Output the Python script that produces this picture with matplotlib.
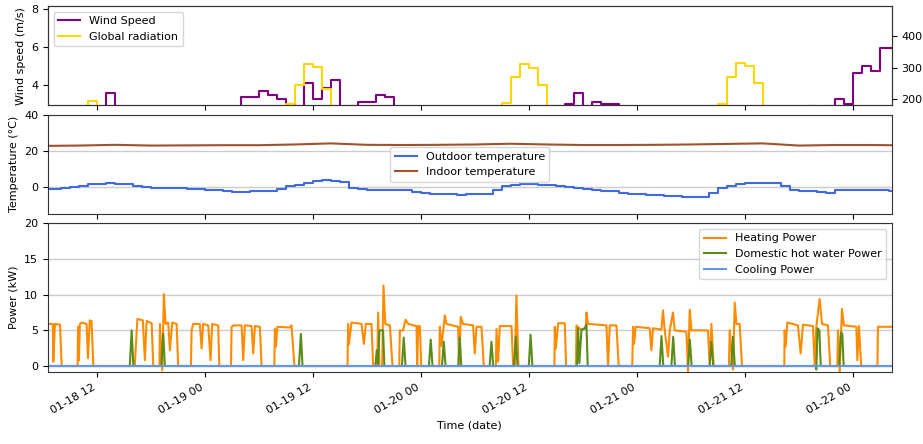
import numpy as np
import pandas as pd
import matplotlib
matplotlib.use("Agg")
import matplotlib.pyplot as plt
import matplotlib.dates as mdates
from matplotlib.ticker import MultipleLocator

plt.rcParams['font.family'] = ['DejaVu Sans']
plt.rcParams['font.size'] = 8

# --- data (hours counted from 2019-01-18 00:00) ---
BASE = pd.Timestamp("2019-01-18 00:00")

# hourly series, first value at 06:00 on 01-18
hour_h = np.arange(6, 102)

wind_ms = [2.4, 2.6, 2.5, 2.7, 2.8, 2.6, 2.8,
           3.6,
           2.7, 2.5, 2.3, 2.2, 2.0, 2.1, 2.3, 2.4, 2.2, 2.5, 2.6, 2.4, 2.7, 2.8,
           3.38, 3.38, 3.7, 3.51, 3.3, 3.0, 2.9, 4.1, 3.3, 3.84, 4.3, 2.8, 2.9,
           3.1, 3.1, 3.47, 3.37,
           2.8, 2.6, 2.5, 2.3, 2.2, 2.0, 1.9, 2.1, 2.3, 2.2, 2.4, 2.6, 2.5, 2.4,
           2.6, 2.7, 2.8, 2.7, 2.9,
           3.0, 3.6, 2.9, 3.12, 3.0, 3.0,
           2.8, 2.6, 2.4, 2.3, 2.1, 2.0, 2.2, 2.3, 2.5, 2.4, 2.2, 2.1, 2.3, 2.5,
           2.6, 2.4, 2.5, 2.7, 2.6, 2.8, 2.7, 2.9, 2.8, 2.9,
           3.26, 3.0, 4.63, 5.0, 4.74, 5.95, 5.95, 5.95]

radiation_wm2 = [0, 0, 0, 40, 130, 195, 160, 110, 50, 0,          # 01-18 06..15
                 0, 0, 0, 0, 0, 0, 0, 0, 0, 0, 0, 0, 0, 0, 0,      # 16..30
                 50, 130, 185, 245, 313, 303, 232, 120, 40, 0,     # 31..40
                 0, 0, 0, 0, 0, 0, 0, 0, 0, 0, 0, 0, 0, 0,         # 41..54
                 40, 120, 187, 271, 313, 300, 245, 130, 40, 0,     # 55..64
                 0, 0, 0, 0, 0, 0, 0, 0, 0, 0, 0, 0, 0, 0,         # 65..78
                 40, 130, 185, 271, 316, 305, 252, 130, 40, 0,     # 79..88
                 0, 0, 0, 0, 0, 0, 0, 0, 0, 0, 0, 0, 0]            # 89..101

outdoor_c = [-1.1, -0.8, -0.3, 0.3, 0.9, 1.6, 2.0, 2.1, 1.8, 1.6, 0.4, 0.0,
             -0.7, -0.5, -0.3, -0.6, -1.0, -1.2, -1.8, -1.3, -2.4, -2.6, -2.5, -2.3,
             -2.2, -2.4, -1.0, 0.4, 1.4, 2.4, 3.5, 3.7, 3.3, 2.8, -0.3, -0.8,
             -1.3, -1.5, -1.4, -1.3, -1.8, -2.6, -3.0, -3.6, -3.8, -3.9, -4.3, -3.9,
             -3.7, -3.7, -1.5, 0.4, 1.3, 1.5, 1.5, 1.4, 1.1, 0.6, -0.1, -0.6,
             -1.1, -1.5, -2.0, -2.4, -3.0, -3.6, -4.0, -4.3, -4.5, -4.7, -4.8, -5.2,
             -5.6, -5.4, -3.0, -0.6, 0.8, 1.9, 2.1, 2.5, 2.5, 2.4, 0.4, -1.5,
             -2.0, -2.4, -2.7, -3.0, -1.8, -1.7, -1.6, -1.5, -1.5, -1.5, -2.4, -2.4]

# indoor temperature every 4 hours
indoor_h = [6, 10, 14, 18, 22, 26, 30, 34, 38, 42, 46, 50, 54, 58, 62, 66,
            70, 74, 78, 82, 86, 90, 94, 98, 102]
indoor_c = [22.8, 23.0, 23.4, 23.0, 23.1, 23.2, 23.2, 23.6, 24.2, 23.4, 23.3,
            23.4, 23.6, 24.0, 23.6, 23.3, 23.3, 23.4, 23.6, 23.9, 24.2, 23.0,
            23.3, 23.3, 23.1]

# heating power, read as polyline vertices
heat_h = [6.5, 7.1, 7.15, 7.33, 7.9, 8.08,
          9.85, 9.9, 10.0, 10.1, 10.3, 10.85, 11.0, 11.2, 11.4, 11.6,
          16.2, 16.5, 17.1, 17.33, 17.52, 18.08, 18.26,
          18.95, 19.0, 19.26, 19.44, 19.63, 19.92, 20.11, 20.37, 20.86, 21.03,
          22.45, 22.52, 22.7, 23.44, 23.63, 23.81, 24.37, 24.63, 24.81, 25.48, 25.6,
          26.9, 26.97, 27.2, 28.08, 28.26, 28.44, 29.19, 29.37, 29.56, 30.11, 30.3,
          31.72, 31.78, 31.9, 32.05, 33.44, 33.63, 33.95,
          39.85, 39.92, 40.0, 40.3, 41.41, 41.67, 41.89, 42.52, 42.7,
          43.15, 43.26, 43.4,
          43.7, 43.85, 44.05, 44.56, 44.85,
          45.6, 45.67, 46.03, 46.3, 46.59, 47.52, 47.6, 47.7, 47.89, 48.05,
          50.05, 50.11, 50.3, 50.67, 50.85, 52.15, 52.26, 52.44, 52.7, 53.81, 54.0,
          54.19, 54.74, 55.0,
          56.35, 56.41, 56.59, 56.78, 58.08, 58.26, 58.44, 58.63, 58.85,
          62.85, 62.89, 63.0, 63.26, 64.0, 64.15,
          65.25, 65.3, 65.67, 66.35, 66.41, 66.59, 68.63, 68.81, 69.0, 69.74, 70.0,
          71.5, 71.59, 71.7, 71.89, 73.44, 73.63, 73.81, 74.74, 74.92, 75.11, 75.48,
          75.67, 76.03, 76.22, 77.52, 77.7, 77.89, 78.08, 79.92, 80.11, 80.3, 80.55,
          82.25, 82.33, 82.7, 82.89, 83.08, 83.44, 83.7,
          88.4, 88.44, 88.55, 88.74, 89.92, 90.22, 90.48, 91.59, 91.78, 91.96, 92.33,
          92.59, 93.26, 93.5,
          94.3, 94.37, 94.56, 94.81, 95.03, 96.41, 96.52, 96.7, 96.95,
          98.75, 98.81, 100.5]
heat_kw = [5.9, 5.9, 0.6, 5.9, 5.8, 0,
           0, 5.5, 0.8, 5.9, 6.1, 5.9, 1.1, 6.4, 6.3, 0,
           0, 6.6, 6.4, 0.8, 6.3, 6.0, 0,
           0, 5.9, -0.6, 10.1, 5.9, 6.1, 2.2, 6.1, 5.9, 0,
           0, 5.0, 5.9, 5.9, 2.45, 5.9, 5.7, 0.8, 5.9, 5.7, 0,
           0, 5.5, 5.7, 5.7, 0.8, 5.7, 5.6, 1.75, 5.6, 5.5, 0,
           0, 5.2, 2.7, 5.5, 5.4, 5.7, 0,
           0, 5.9, 3.0, 6.1, 5.9, 3.1, 5.9, 5.9, 0,
           0, 7.5, 0,
           0, 11.3, 5.9, 5.7, 0,
           0, 5.0, 5.0, 6.5, 5.9, 5.6, 0, 5.6, 5.6, 0,
           0, 5.5, 2.8, 7.1, 5.9, 5.5, 0, 6.9, 5.9, 5.7, 1.75,
           5.5, 5.5, 0,
           0, 5.2, 0.6, 5.6, 5.6, 0, 0, 9.9, 0,
           0, 5.5, 2.4, 6.0, 6.0, 0,
           0, 5.7, 5.2, 5.2, 7.5, 5.9, 5.7, 0, 5.7, 5.7, 0,
           0, 5.5, 3.1, 5.5, 5.3, 2.2, 5.3, 5.1, 7.8, 5.0, 1.3,
           5.0, 7.5, 5.0, 4.8, -0.8, 7.9, 5.0, 5.0, 0, 5.9, 0,
           0, 5.0, -0.5, 8.9, 5.9, 5.9, 0,
           0, 5.0, 2.7, 6.1, 5.7, 1.75, 5.8, 5.6, 0.1, 5.5, 9.4,
           5.9, 5.7, 0,
           0, 5.0, -0.8, 8.0, 5.7, 5.5, 0.8, 5.6, 0,
           0, 5.5, 5.5]

# domestic hot water power, polyline vertices
dhw_h = [6.5, 15.65, 15.86, 16.05, 19.15, 19.37, 19.55, 34.45, 34.67, 34.85,
         42.95, 43.1, 43.25, 43.4, 43.8, 43.95, 45.9, 46.1, 46.3, 48.9, 49.1, 49.3,
         50.35, 50.55, 50.75, 52.15, 52.33, 52.5, 55.65, 55.85, 56.05,
         58.35, 58.55, 58.75, 60.0, 60.2, 60.4,
         65.35, 65.48, 65.62, 65.85, 66.2, 66.41, 66.55,
         74.55, 74.75, 74.95, 75.85, 76.05, 76.25, 77.7, 77.9, 78.1,
         80.1, 80.3, 80.5, 82.5, 82.7, 82.9,
         91.9, 91.96, 92.1, 92.3, 92.45, 94.5, 94.7, 94.85, 95.0, 100.5]
dhw_kw = [0, 0, 5.0, 0, 0, 4.5, 0, 0, 4.5, 0,
          0, 2.2, 0.3, 5.0, 5.0, 0, 0, 4.0, 0, 0, 3.7, 0,
          0, 3.4, 0, 0, 4.0, 0, 0, 3.4, 0,
          0, 4.1, 0, 0, 4.4, 0,
          0, 5.3, 0.4, 5.0, 5.3, 5.8, 0,
          0, 4.2, 0, 0, 4.1, 0, 0, 3.7, 0,
          0, 3.4, 0, 0, 4.1, 0,
          0, -0.5, 5.3, 5.0, 0, 0, 4.7, 4.5, 0, 0]

cooling_h = [6.0, 101.0]
cooling_kw = [0.0, 0.0]


def to_time(h):
    return BASE + pd.to_timedelta(np.asarray(h, dtype=float), unit="h")


t_hour = to_time(hour_h)

fig, (ax1, ax2, ax3) = plt.subplots(
    3, 1, figsize=(9.23, 4.44), dpi=100, sharex=True,
    gridspec_kw=dict(height_ratios=[1, 1, 1.5]))
fig.subplots_adjust(left=0.052, right=0.966, top=0.986, bottom=0.162, hspace=0.082)

# top: wind + radiation
l1, = ax1.plot(t_hour, wind_ms, drawstyle="steps-post", color="purple", lw=1.5,
               label="Wind Speed")
ax1.set_ylim(2.95, 8.15)
ax1.yaxis.set_major_locator(MultipleLocator(2))
ax1.set_ylabel("Wind speed (m/s)")
ax1b = ax1.twinx()
l2, = ax1b.plot(t_hour, radiation_wm2, drawstyle="steps-post", color="gold", lw=1.5,
                label="Global radiation")
ax1b.set_ylim(181, 495)
ax1b.yaxis.set_major_locator(MultipleLocator(100))
ax1.legend(handles=[l1, l2], loc="upper left")

# middle: temperatures
ax2.plot(t_hour, outdoor_c, drawstyle="steps-post", color="royalblue", lw=1.5,
         label="Outdoor temperature")
ax2.plot(to_time(indoor_h), indoor_c, color="sienna", lw=1.5, label="Indoor temperature")
ax2.set_ylim(-14.8, 40)
ax2.yaxis.set_major_locator(MultipleLocator(20))
ax2.grid(axis="y", color="#cccccc", lw=1)
ax2.set_ylabel("Temperature (°C)")
ax2.legend(loc="center")

# bottom: power
ax3.plot(to_time(heat_h), heat_kw, color="darkorange", lw=1.5, label="Heating Power")
ax3.plot(to_time(dhw_h), dhw_kw, color="#5b8c1a", lw=1.5, label="Domestic hot water Power")
ax3.plot(to_time(cooling_h), cooling_kw, color="cornflowerblue", lw=1.5, label="Cooling Power")
ax3.set_ylim(-0.85, 20)
ax3.yaxis.set_major_locator(MultipleLocator(5))
ax3.grid(axis="y", color="#cccccc", lw=1)
ax3.set_ylabel("Power (kW)")
ax3.legend(loc="upper right")

ax3.set_xlim(to_time(6.56), to_time(100.33))
ax3.xaxis.set_major_locator(mdates.HourLocator(byhour=[0, 12]))
ax3.xaxis.set_major_formatter(mdates.DateFormatter("%m-%d %H"))
for lab in ax3.get_xticklabels():
    lab.set_rotation(30)
    lab.set_ha("right")
ax3.set_xlabel("Time (date)")

for ax in (ax1, ax1b, ax2, ax3):
    for sp in ax.spines.values():
        sp.set_color("#333333")

fig.savefig("out.png", dpi=100)
